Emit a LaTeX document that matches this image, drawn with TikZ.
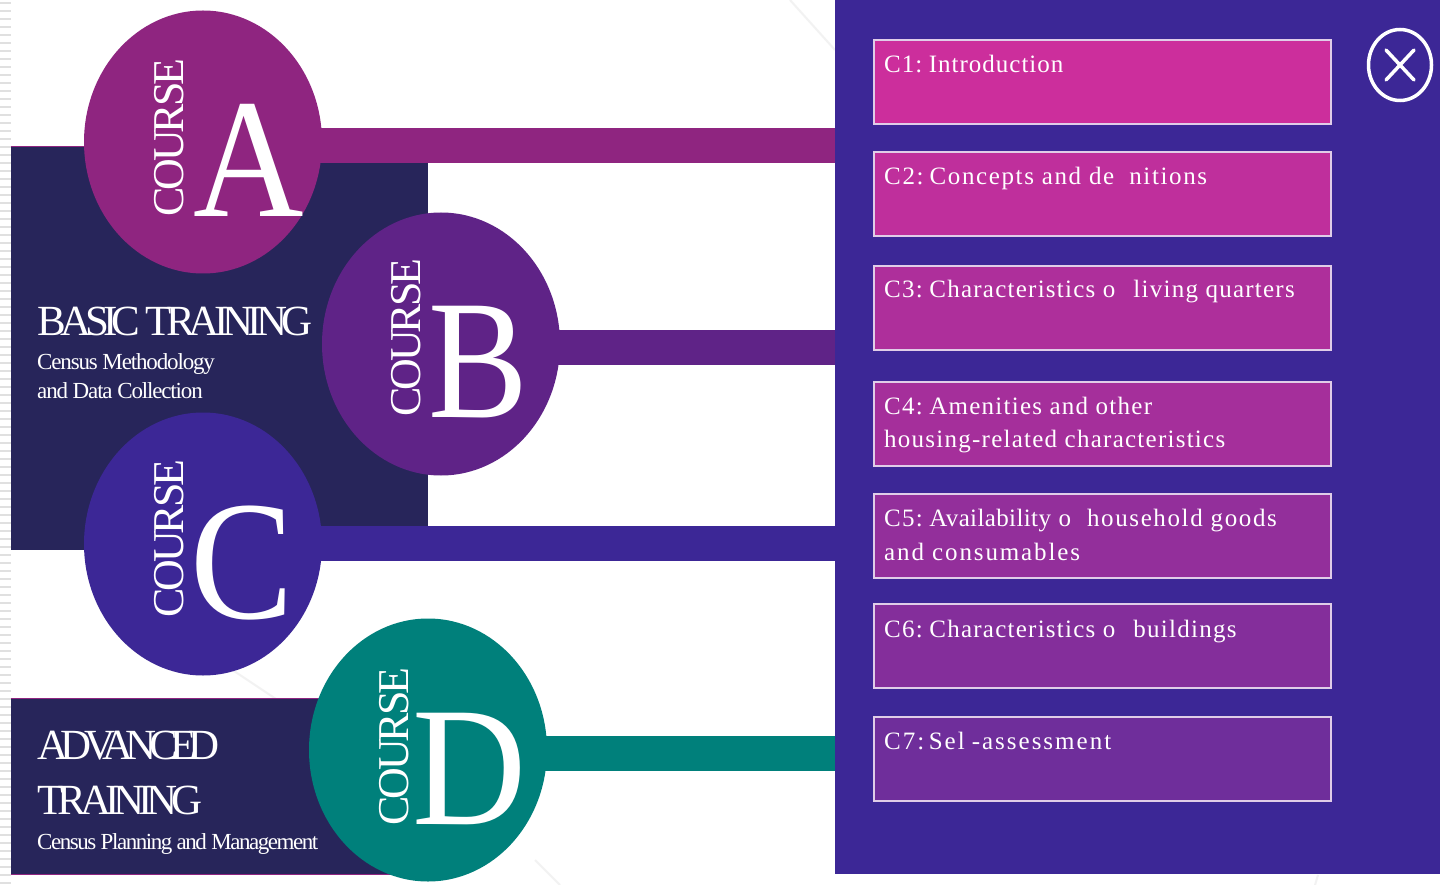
\documentclass[tikz,border=0pt]{standalone}
\usepackage{fontspec}
\usetikzlibrary{shapes.geometric}
\setmainfont{Liberation Serif}
\newfontfamily\tightA[LetterSpace=-13.5]{Liberation Serif}
\newfontfamily\tightAd[LetterSpace=-17.6]{Liberation Serif}
\newfontfamily\tightTr[LetterSpace=-14]{Liberation Serif}
\newfontfamily\tightB[LetterSpace=-7]{Liberation Serif}
\newfontfamily\tightC[LetterSpace=-5]{Liberation Serif}
\newfontfamily\tightD[LetterSpace=-6.3]{Liberation Serif}
\newfontfamily\wideA[LetterSpace=5]{Liberation Serif}
\newfontfamily\wideB[LetterSpace=4]{Liberation Serif}
\newfontfamily\wideC[LetterSpace=8]{Liberation Serif}
\newfontfamily\wideD[LetterSpace=6.5]{Liberation Serif}
\newfontfamily\wideE[LetterSpace=1.5]{Liberation Serif}
\newfontfamily\wideF[LetterSpace=7.5]{Liberation Serif}
\newcommand{\fsz}[1]{\fontsize{#1}{#1}\selectfont}
\definecolor{darknavy}{HTML}{27255A}
\definecolor{panelblue}{HTML}{3C2796}
\definecolor{cA}{HTML}{8F2580}
\definecolor{cB}{HTML}{5F2387}
\definecolor{cC}{HTML}{3C2796}
\definecolor{cD}{HTML}{00807B}
\definecolor{edge}{HTML}{E0CDE8}
\tikzset{
  x=1pt,y=-1pt,
  disc/.style={ellipse,minimum width=238pt,minimum height=263pt,inner sep=0pt,draw=none},
  bar/.style={line width=35pt},
  bigletter/.style={text=white,inner sep=0pt,anchor=base west,font=\fsz{170}},
  coursetxt/.style={text=white,inner sep=0pt,anchor=base west,rotate=90,font=\tightB\fsz{44}},
  titletxt/.style={text=white,inner sep=0pt,anchor=base west,font=\fsz{43}},
  subtxt/.style={text=white,inner sep=0pt,anchor=base west,font=\tightC\fsz{23}},
  itembox/.style={rectangle,draw=edge,line width=2pt,outer sep=0pt,minimum width=457pt,minimum height=84pt,inner sep=0pt,anchor=north west},
  itemtxt/.style={text=white,inner sep=0pt,anchor=base west,font=\wideA\fsz{25}},
  faint/.style={draw=black!5,line width=2pt}
}
\begin{document}
\begin{tikzpicture}
\useasboundingbox (0,0) rectangle (1440,885);
\fill[white] (0,0) rectangle (1440,885);
% edge stripes and faint background lines
\foreach \yy in {2,10,...,882}{\fill[black!12] (0,\yy) rectangle (11,\yy+1.6);}
\draw[faint] (790,0) -- (835,50);
\draw[faint] (225,665) -- (285,705);
\draw[faint] (535,860) -- (560,885);
\draw[faint] (1318,875) -- (1315,885);
% dark blocks
\node[rectangle,fill=darknavy,draw=none,minimum width=417pt,minimum height=380pt,inner sep=0pt,anchor=north west] (basic) at (11,146) {};
\fill[darknavy] (11,520) rectangle (100,550);
\draw[cA,line width=0.8pt] (11,146) -- (100,146);
\node[rectangle,fill=darknavy,draw=none,minimum width=400pt,minimum height=176pt,inner sep=0pt,anchor=north west] (adv) at (11,698) {};
\draw[cA,line width=0.8pt] (11,698) -- (330,698);
\draw[cA,line width=0.8pt] (11,874) -- (400,874);
% panel
\node[rectangle,fill=panelblue,draw=none,minimum width=605pt,minimum height=874pt,inner sep=0pt,anchor=north west] (panel) at (835,0) {};
% discs
\node[disc,fill=cA] (A) at (203,142) {};
\node[disc,fill=cB] (B) at (441,344) {};
\node[disc,fill=cC] (C) at (203,544) {};
\node[disc,fill=cD] (D) at (428,750) {};
% bars
\coordinate (aa) at (300,145.5);
\coordinate (bb) at (530,347.5);
\coordinate (cc) at (300,543.5);
\coordinate (dd) at (530,753.5);
\draw[bar,cA] (aa) -- (aa -| panel.west);
\draw[bar,cB] (bb) -- (bb -| panel.west);
\draw[bar,cC] (cc) -- (cc -| panel.west);
\draw[bar,cD] (dd) -- (dd -| panel.west);
% letters
\node[bigletter] (la) at (193,217) {\scalebox{.9}[1]{A}};
\node[bigletter] (lb) at (428.5,417) {\scalebox{.88}[1]{B}};
\node[bigletter] (lc) at (190.5,618) {\scalebox{.91}[1]{C}};
\node[bigletter] (ld) at (412,824) {\scalebox{.93}[1]{D}};
\node[coursetxt] (ca) at (183,217) {COURSE};
\node[coursetxt] (cb) at (420,417) {COURSE};
\node[coursetxt] (cc2) at (183,618) {COURSE};
\node[coursetxt] (cd) at (408,826) {COURSE};
% left texts
\node[titletxt] (t1) at (37,335) {\tightA BASIC TRAINING};
\node[subtxt] (s1) at (37,369) {Census Methodology};
\node[subtxt] (s2) at (37,398) {and Data Collection};
\node[titletxt] (t2) at (37,759) {\tightAd ADVANCED};
\node[titletxt] (t3) at (37,814) {\tightTr TRAINING};
\node[subtxt] (s3) at (37,849) {\tightD Census Planning and Management};
% boxes
\node[itembox,fill={rgb,255:red,204;green,46;blue,156}] (c1) at (873.5,40) {};
\node[itembox,fill={rgb,255:red,191;green,47;blue,156}] (c2) at (873.5,152) {};
\node[itembox,fill={rgb,255:red,174;green,47;blue,155}] (c3) at (873.5,266) {};
\node[itembox,fill={rgb,255:red,165;green,47;blue,155}] (c4) at (873.5,381.5) {};
\node[itembox,fill={rgb,255:red,147;green,47;blue,155}] (c5) at (873.5,493.5) {};
\node[itembox,fill={rgb,255:red,132;green,46;blue,155}] (c6) at (873.5,603.5) {};
\node[itembox,fill={rgb,255:red,111;green,46;blue,155}] (c7) at (873.5,716.5) {};
\node[itemtxt] (x1) at (884,73) {\wideB C1:\hspace{6.5pt}Introduction};
\node[itemtxt] (x2) at (884,185) {\wideD C2:\hspace{6pt}Concepts and de\hspace{15pt}nitions};
\node[itemtxt] (x3) at (884,298) {C3:\hspace{6.5pt}Characteristics o\hspace{18pt}living quarters};
\node[itemtxt] (x4) at (884,414) {C4:\hspace{6.5pt}Amenities and other};
\node[itemtxt] (x4b) at (884,447) {housing-related characteristics};
\node[itemtxt] (x5) at (884,526) {C5:\hspace{6.5pt}{\wideE Availability} o\hspace{16pt}{\wideD household goods}};
\node[itemtxt] (x5b) at (884,560) {\wideF and consumables};
\node[itemtxt] (x6) at (884,637) {C6:\hspace{6.5pt}Characteristics o\hspace{18pt}buildings};
\node[itemtxt] (x7) at (884,749) {\wideC C7:\hspace{4.5pt}Sel\hspace{7pt}-assessment};
% close
\node[ellipse,draw=white,line width=3.5pt,minimum width=63pt,minimum height=71pt,inner sep=0pt] (close) at (1400,65) {};
\coordinate (k1) at (1386,50); \coordinate (k2) at (1414,80);
\coordinate (k3) at (1414,50); \coordinate (k4) at (1386,80);
\draw[white,line width=3.5pt,line cap=round] (k1) -- (k2);
\draw[white,line width=3.5pt,line cap=round] (k3) -- (k4);
\end{tikzpicture}
\end{document}
